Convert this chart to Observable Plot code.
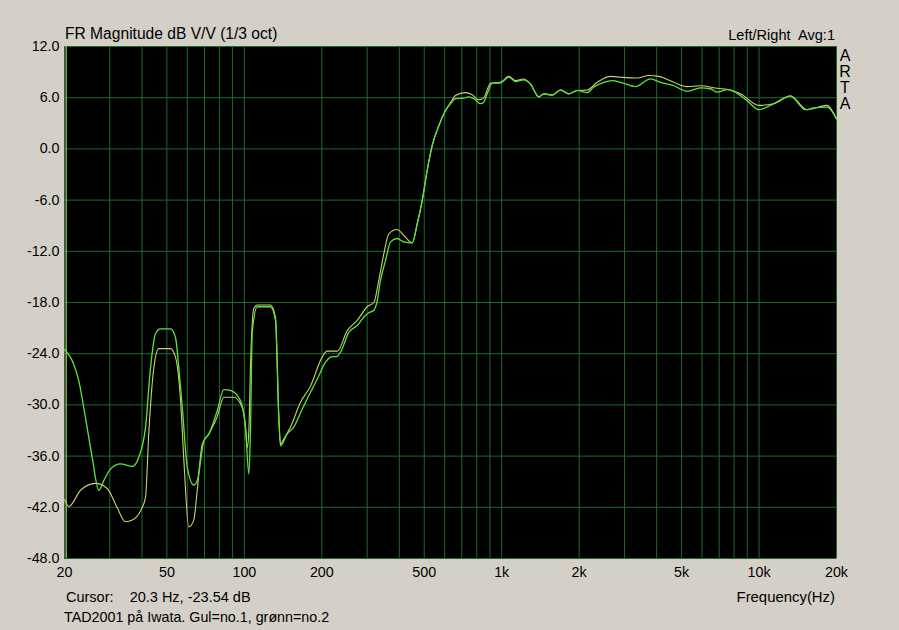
<!DOCTYPE html>
<html>
<head>
<meta charset="utf-8">
<script src="https://cdn.jsdelivr.net/npm/d3@7"></script>
<script src="https://cdn.jsdelivr.net/npm/@observablehq/plot@0.6"></script>
<style>
  html, body { margin: 0; padding: 0; background: #d4d0c8; }
  body { width: 899px; height: 630px; position: relative; overflow: hidden;
         font-family: Arial, "Liberation Sans", sans-serif; color: #000; }
  #chart { position: absolute; left: 0; top: 0; }
  .lbl { position: absolute; font-size: 15px; white-space: pre; line-height: 1; }
</style>
</head>
<body>
<div id="chart"></div>
<div class="lbl" style="left:65px; top:26px; font-size:15.6px;">FR Magnitude dB V/V (1/3 oct)</div>
<div class="lbl" style="right:64px; top:28px; font-size:14.6px;">Left/Right  Avg:1</div>
<div class="lbl" style="left:839px; top:48px; font-size:16px; line-height:16px; text-align:center; width:12px;">A<br>R<br>T<br>A</div>
<div class="lbl" style="left:66px; top:590px; font-size:14.5px;">Cursor:    20.3 Hz, -23.54 dB</div>
<div class="lbl" style="right:64px; top:590px; font-size:14.9px;">Frequency(Hz)</div>
<div class="lbl" style="left:64px; top:610px; font-size:14.3px;">TAD2001 på Iwata. Gul=no.1, grønn=no.2</div>
<script>
// Series no.1 (yellow, "Gul")
const freqYellow = [20,20.8,23.1,26.4,29.3,32.0,34.5,36.7,39.5,41.3,42.5,44.5,46.5,51.6,54.0,56.5,58.2,60.8,63.6,65.6,68.6,72.8,78.4,83.2,91.0,98.1,101,102.6,104.1,105.6,108.8,112.2,126.3,132.1,136.1,138.2,142.3,151.1,165.2,180.7,200.6,209.9,229.6,251.1,274.5,300.2,318.5,333.0,348.2,364.3,392.6,416.5,449,469.5,491,513.5,537,569.7,604.9,632.5,661.4,723.1,768,814.8,852,904.8,989.6,1066,1131,1219,1294,1394,1458,1572,1693,1823,1966,2149,2350,2649,2896,3362,3730,4079,4665,5259,5920,6877,7746,8473,9977,11413,13250,15380,18400,20000];
const dbYellow   = [-41.1,-41.9,-40.0,-39.2,-39.8,-42.0,-43.7,-43.5,-42.4,-40.8,-33.4,-25.6,-23.4,-23.4,-24.4,-29.5,-36.5,-44.3,-43.5,-40.0,-34.6,-33.4,-31.4,-29.1,-29.1,-30.3,-32.6,-35.0,-33.0,-25.6,-18.7,-18.3,-18.3,-19.7,-31.4,-34.6,-34.0,-32.6,-29.7,-27.8,-24.4,-23.7,-23.7,-21.3,-20.1,-18.5,-18.0,-15.4,-12.3,-9.95,-9.45,-10.15,-11.0,-8.8,-6.05,-2.5,0.4,2.7,4.5,5.4,6.25,6.6,6.35,5.75,6.0,7.7,7.8,8.5,8.0,8.2,7.6,6.1,6.45,6.3,6.9,6.45,6.85,6.9,7.8,8.5,8.4,8.3,8.6,8.5,7.8,7.3,7.4,7.1,6.9,6.45,5.1,5.3,6.2,4.6,5.1,3.5];

// Series no.2 (green, "grønn")
const freqGreen = [20,21.7,22.7,24.1,25.6,27.2,28.4,30.2,33.0,36.7,38.9,41.3,43.2,45.1,47.2,51.6,54.0,55.6,57.4,60.0,63.6,65.6,69.6,72.8,78.4,83.2,88.3,96.6,101,104.1,105.6,107.3,112.2,126.3,132.1,136.1,138.2,146.7,155.6,167.7,175.4,191.8,206.7,216.2,229.6,236.5,254.6,274.5,295.7,304.5,318.5,328.3,338.1,353.6,369.8,392.6,416.5,449,469.5,491,513.5,537,569.7,604.9,632.5,661.4,712.2,745,779,827.3,852,878.4,918.7,989.6,1066,1131,1219,1294,1394,1458,1572,1693,1823,1966,2149,2281,2494,2689,2940,3311,3787,4141,4665,5259,5920,6475,6877,7521,7978,8994,9977,11413,13250,15150,16320,18400,20000];
const dbGreen   = [-23.5,-25.2,-27.1,-31.4,-36.1,-40.0,-38.9,-37.5,-36.9,-37.2,-36.1,-32.6,-25.6,-21.7,-21.1,-21.1,-22.1,-25.6,-30.3,-37.3,-39.4,-38.9,-34.2,-33.4,-30.7,-28.2,-28.3,-29.5,-32.6,-38.1,-33.0,-21.5,-18.5,-18.5,-20.1,-31.4,-34.8,-33.4,-32.6,-30.5,-29.3,-27.0,-25.0,-24.4,-24.3,-23.8,-21.5,-20.7,-19.5,-19.2,-18.9,-17.8,-15.4,-13.1,-10.9,-10.5,-10.9,-11.0,-8.8,-6.05,-2.5,0.4,2.7,4.5,5.3,5.9,5.95,6.1,5.9,5.3,5.5,6.45,7.7,7.75,8.4,7.9,8.1,7.6,6.1,6.45,6.3,6.9,6.45,6.85,6.6,7.25,7.8,8.0,7.75,7.3,8.2,7.8,7.4,6.75,7.15,7.05,6.65,6.95,6.75,5.65,4.6,5.3,6.2,4.6,4.8,4.9,3.5];

// Axes and grid
const yTicks = [-48,-42,-36,-30,-24,-18,-12,-6,0,6,12];
const xTickValues = [20,50,100,200,500,1000,2000,5000,10000,20000];
const xTickLabels = ["20","50","100","200","500","1k","2k","5k","10k","20k"];
const xGrid = [20,30,40,50,60,70,80,90,100,200,300,400,500,600,700,800,900,1000,2000,3000,4000,5000,6000,7000,8000,9000,10000,20000];
const cursorFreq = 20.3;

const yellow = freqYellow.map((f, i) => ({f, db: dbYellow[i]}));
const green = freqGreen.map((f, i) => ({f, db: dbGreen[i]}));
const xTicks = xTickValues.map((v, i) => ({v, label: xTickLabels[i]}));

const gridColor = "#1d6a2a";

const chart = Plot.plot({
  width: 899,
  height: 630,
  marginLeft: 64,
  marginRight: 63,
  marginTop: 46,
  marginBottom: 72,
  style: {background: "transparent", fontFamily: "Arial, 'Liberation Sans', sans-serif", fontSize: "14px", color: "#000"},
  x: {type: "log", domain: [20, 20000], axis: null},
  y: {domain: [-48, 12], axis: null},
  marks: [
    Plot.frame({fill: "black", stroke: "none"}),
    Plot.ruleX(xGrid, {stroke: gridColor, strokeWidth: 1}),
    Plot.ruleY(yTicks, {stroke: gridColor, strokeWidth: 1}),
    Plot.ruleX([cursorFreq], {stroke: "#c8c878", strokeWidth: 1.2}),
    Plot.line(yellow, {x: "f", y: "db", stroke: "#cfcf6e", strokeWidth: 1.1, curve: "monotone-x"}),
    Plot.line(green, {x: "f", y: "db", stroke: "#5de63a", strokeWidth: 1.3, curve: "monotone-x"}),
    Plot.text(yTicks, {y: d => d, frameAnchor: "left", textAnchor: "end", dx: -5, text: d => d.toFixed(1), fontSize: 14.3, fill: "black"}),
    Plot.text(xTicks, {x: "v", frameAnchor: "bottom", dy: 18, text: "label", fontSize: 14.3, fill: "black"})
  ]
});
document.getElementById("chart").appendChild(chart);
</script>
</body>
</html>
